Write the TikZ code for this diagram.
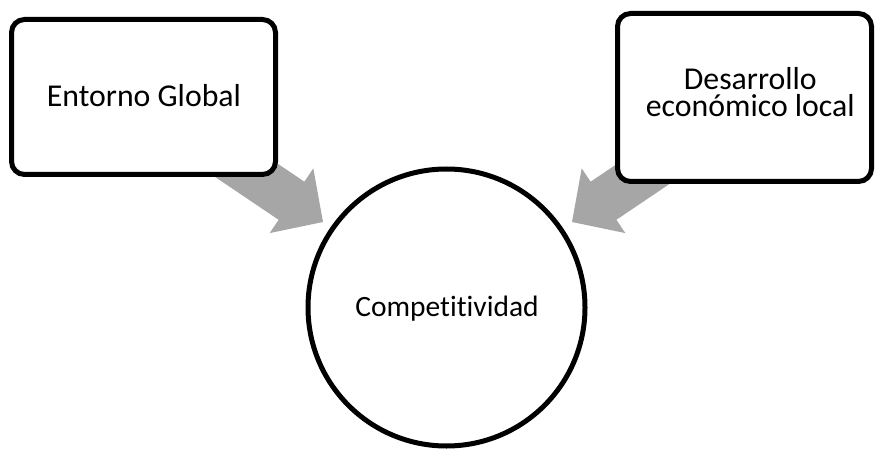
\documentclass[tikz,border=0pt]{standalone}
\usepackage{fontspec}
\setmainfont{Carlito}[Ligatures={NoCommon}]
\definecolor{arrowgray}{HTML}{A6A6A6}
\begin{document}
\begin{tikzpicture}[x=1pt,y=1pt,
  box/.style={draw=black, line width=5pt, fill=white, rounded corners=13pt, rectangle, inner sep=0pt},
  ring/.style={draw=black, line width=5pt, fill=white, circle, inner sep=0pt, minimum size=277pt},
  lbl/.style={anchor=base, inner sep=0pt, font=\fontsize{31.8}{38}\selectfont},
  clbl/.style={anchor=base, inner sep=0pt, font=\fontsize{29.5}{35}\selectfont},
  bigarrow/.style={fill=arrowgray}
]
\useasboundingbox (0,0) rectangle (875,-449);
% tips of the block arrows
\coordinate (tipL) at (323,-222);
\coordinate (tipR) at (572,-222);
% block arrows (drawn first, behind the boxes)
\begin{scope}[shift={(tipL)}, rotate=-34]
  \fill[bigarrow] (0,0) -- (-38,39) -- (-38,23) -- (-200,23) -- (-200,-23) -- (-38,-23) -- (-38,-39) -- cycle;
\end{scope}
\begin{scope}[shift={(tipR)}, rotate=-146]
  \fill[bigarrow] (0,0) -- (-38,39) -- (-38,23) -- (-200,23) -- (-200,-23) -- (-38,-23) -- (-38,-39) -- cycle;
\end{scope}
% boxes
\node[box, minimum width=264pt, minimum height=155pt] (global) at (143.5,-97) {};
\node[box, minimum width=254pt, minimum height=168pt] (local) at (744.5,-97.5) {};
% circle
\node[ring] (comp) at (446.5,-307.5) {};
% texts
\node[lbl] (globalText) at (144,-106.7) {Entorno Global};
\node[lbl, align=center, font=\fontsize{31.8}{27.4}\selectfont] (localText) at (750.3,-116.7) {Desarrollo\\económico local};
\node[clbl] (compText) at (447,-316.7) {Competitividad};
\end{tikzpicture}
\end{document}
